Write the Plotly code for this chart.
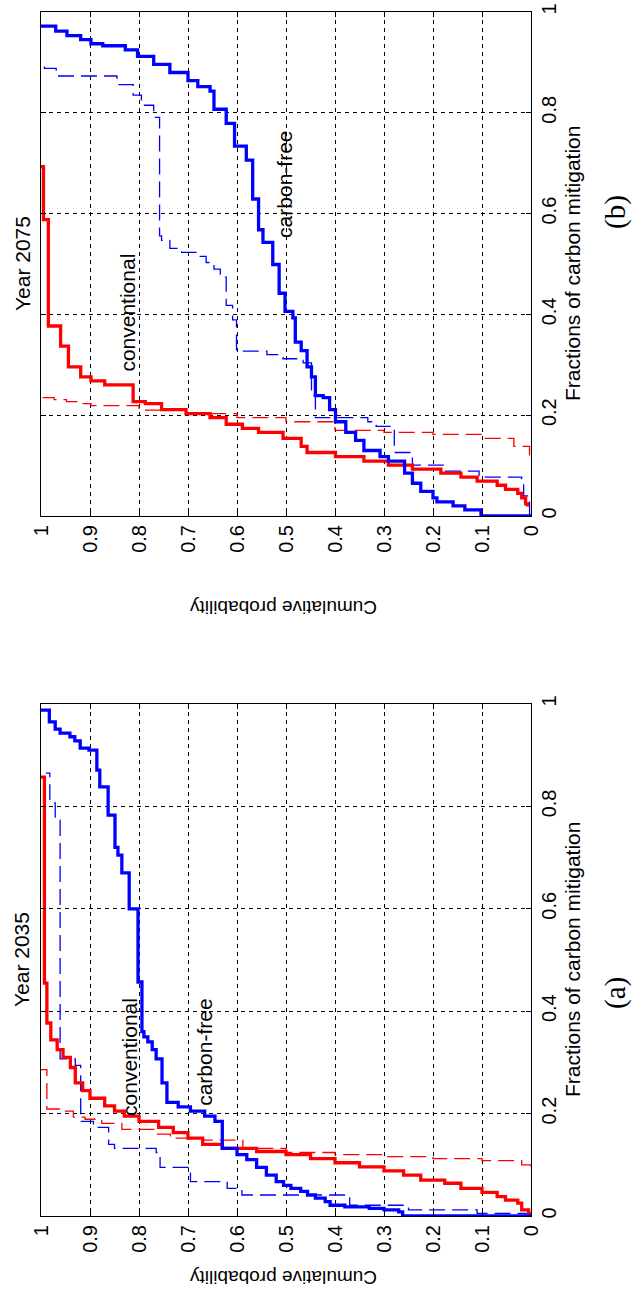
import plotly.graph_objects as go

# ---------------- data: CDF step points (fraction of carbon mitigation, cumulative probability) ----
# Panel (a) Year 2035
A_CF_FRAC = [0, 0, 0.008, 0.012, 0.015, 0.018, 0.021, 0.028, 0.035, 0.041, 0.048, 0.054, 0.06, 0.067,
             0.08, 0.095, 0.11, 0.12, 0.132, 0.185, 0.195, 0.205, 0.213, 0.222, 0.26, 0.307, 0.325,
             0.34, 0.35, 0.36, 0.457, 0.6, 0.67, 0.705, 0.72, 0.783, 0.838, 0.871, 0.91, 0.914,
             0.928, 0.936, 0.943, 0.951, 0.965, 0.988]
A_CF_PROB = [0, 0.262, 0.27, 0.30, 0.33, 0.38, 0.41, 0.42, 0.44, 0.456, 0.47, 0.49, 0.505, 0.52,
             0.54, 0.56, 0.58, 0.60, 0.63, 0.645, 0.666, 0.695, 0.72, 0.743, 0.753, 0.765, 0.773,
             0.782, 0.79, 0.794, 0.802, 0.82, 0.835, 0.843, 0.849, 0.863, 0.88, 0.886, 0.902, 0.92,
             0.931, 0.941, 0.961, 0.971, 0.983, 1.0]

A_CONV_FRAC = [0, 0.005, 0.012, 0.025, 0.031, 0.038, 0.046, 0.054, 0.064, 0.07, 0.08, 0.088, 0.096,
               0.104, 0.112, 0.12, 0.126, 0.132, 0.14, 0.152, 0.163, 0.173, 0.185, 0.195, 0.205,
               0.215, 0.23, 0.245, 0.26, 0.29, 0.31, 0.325, 0.344, 0.377, 0.455, 0.857]
A_CONV_PROB = [0, 0.005, 0.019, 0.027, 0.052, 0.069, 0.1, 0.143, 0.176, 0.225, 0.26, 0.3, 0.35,
               0.4, 0.45, 0.5, 0.56, 0.63, 0.67, 0.7, 0.73, 0.76, 0.8, 0.83, 0.85,
               0.87, 0.9, 0.915, 0.93, 0.94, 0.955, 0.967, 0.98, 0.988, 0.993, 1.0]

A_CF_DASH_FRAC = [0, 0, 0.005, 0.012, 0.021, 0.041, 0.054, 0.067, 0.095, 0.124, 0.132, 0.14, 0.173,
                  0.185, 0.294, 0.307, 0.773, 0.807, 0.865]
A_CF_DASH_PROB = [0, 0.01, 0.11, 0.25, 0.37, 0.59, 0.62, 0.695, 0.757, 0.765, 0.85, 0.862, 0.893,
                  0.919, 0.93, 0.961, 0.971, 0.982, 0.99]

A_CONV_DASH_FRAC = [0.096, 0.1, 0.108, 0.112, 0.116, 0.12, 0.124, 0.132, 0.148, 0.152, 0.16, 0.169,
                    0.181, 0.189, 0.193, 0.205, 0.209, 0.286]
A_CONV_DASH_PROB = [0.0, 0.019, 0.1, 0.2, 0.3, 0.4, 0.5, 0.588, 0.67, 0.736, 0.77, 0.835,
                    0.876, 0.91, 0.934, 0.96, 0.988, 1.0]

# Panel (b) Year 2075
B_CF_FRAC = [0, 0, 0.012, 0.02, 0.028, 0.036, 0.049, 0.065, 0.085, 0.109, 0.118, 0.13, 0.15, 0.166,
             0.187, 0.211, 0.235, 0.239, 0.276, 0.296, 0.328, 0.345, 0.393, 0.406, 0.442, 0.499,
             0.543, 0.568, 0.629, 0.706, 0.734, 0.779, 0.807, 0.843, 0.852, 0.864, 0.88, 0.896,
             0.912, 0.925, 0.933, 0.937, 0.945, 0.953, 0.962, 0.972]
B_CF_PROB = [0, 0.102, 0.135, 0.159, 0.192, 0.2, 0.225, 0.242, 0.258, 0.291, 0.308, 0.341, 0.358, 0.378,
             0.399, 0.411, 0.424, 0.44, 0.448, 0.457, 0.469, 0.481, 0.486, 0.502, 0.514, 0.527,
             0.547, 0.556, 0.568, 0.581, 0.605, 0.622, 0.647, 0.655, 0.68, 0.70, 0.737, 0.77,
             0.803, 0.828, 0.874, 0.898, 0.919, 0.947, 0.97, 1.0]

B_CONV_FRAC = [0.019, 0.024, 0.036, 0.045, 0.053, 0.061, 0.069, 0.077, 0.085, 0.093, 0.101, 0.109,
               0.118, 0.126, 0.138, 0.154, 0.166, 0.174, 0.182, 0.195, 0.203, 0.211, 0.223, 0.227,
               0.26, 0.268, 0.276, 0.296, 0.337, 0.377, 0.588, 0.693]
B_CONV_PROB = [0.007, 0.011, 0.019, 0.027, 0.052, 0.069, 0.11, 0.143, 0.184, 0.242, 0.291, 0.341,
               0.399, 0.457, 0.469, 0.506, 0.556, 0.589, 0.622, 0.655, 0.704, 0.754, 0.787, 0.812,
               0.87, 0.898, 0.919, 0.944, 0.96, 0.985, 0.995, 1.0]

B_CF_DASH_FRAC = [0, 0, 0.04, 0.069, 0.077, 0.089, 0.101, 0.126, 0.178, 0.187, 0.195, 0.239, 0.304,
                  0.312, 0.32, 0.327, 0.389, 0.418, 0.474, 0.49, 0.503, 0.515, 0.523, 0.531, 0.547,
                  0.556, 0.791, 0.815, 0.835, 0.856, 0.873, 0.888, 0.892]
B_CF_DASH_PROB = [0, 0.003, 0.015, 0.019, 0.106, 0.176, 0.242, 0.279, 0.316, 0.333, 0.44, 0.448, 0.465,
                  0.506, 0.539, 0.601, 0.609, 0.622, 0.634, 0.647, 0.663, 0.68, 0.713, 0.737, 0.754,
                  0.758, 0.77, 0.795, 0.812, 0.845, 0.969, 0.993, 1.0]

B_CONV_DASH_FRAC = [0.12, 0.138, 0.154, 0.162, 0.166, 0.17, 0.187, 0.195, 0.203, 0.21, 0.219, 0.223,
                    0.227, 0.231, 0.235]
B_CONV_DASH_PROB = [0.003, 0.035, 0.1, 0.2, 0.3, 0.4, 0.5, 0.6, 0.7, 0.8, 0.898, 0.919,
                    0.948, 0.973, 1.0]

PROB_TICKS = [0, 0.1, 0.2, 0.3, 0.4, 0.5, 0.6, 0.7, 0.8, 0.9, 1]
PROB_TICKTEXT = ["0", "0.1", "0.2", "0.3", "0.4", "0.5", "0.6", "0.7", "0.8", "0.9", "1"]
FRAC_TICKS = [0, 0.2, 0.4, 0.6, 0.8, 1]
FRAC_TICKTEXT = ["0", "0.2", "0.4", "0.6", "0.8", "1"]

# ---------------- figure ----------------
W, H = 633, 1302
BLUE = "rgb(0,0,255)"
RED = "rgb(255,0,0)"
THICK = 3.3
THIN = 1.3
DASH = "16px,7px"

fig = go.Figure()


def add_curve(frac, prob, color, width, dash, xa, ya):
    fig.add_trace(go.Scatter(
        x=prob, y=frac, mode="lines", line_shape="vh",
        line=dict(color=color, width=width, dash=dash),
        xaxis=xa, yaxis=ya, showlegend=False, hoverinfo="skip"))


# panel (a): axes x / y
add_curve(A_CONV_DASH_FRAC, A_CONV_DASH_PROB, RED, THIN, DASH, "x", "y")
add_curve(A_CF_DASH_FRAC, A_CF_DASH_PROB, BLUE, THIN, DASH, "x", "y")
add_curve(A_CONV_FRAC, A_CONV_PROB, RED, THICK, "solid", "x", "y")
add_curve(A_CF_FRAC, A_CF_PROB, BLUE, THICK, "solid", "x", "y")
# panel (b): axes x2 / y2
add_curve(B_CONV_DASH_FRAC, B_CONV_DASH_PROB, RED, THIN, DASH, "x2", "y2")
add_curve(B_CF_DASH_FRAC, B_CF_DASH_PROB, BLUE, THIN, DASH, "x2", "y2")
add_curve(B_CONV_FRAC, B_CONV_PROB, RED, THICK, "solid", "x2", "y2")
add_curve(B_CF_FRAC, B_CF_PROB, BLUE, THICK, "solid", "x2", "y2")

FONT = "Liberation Sans, Arial, sans-serif"
TICKFONT = dict(family=FONT, size=20, color="black")

xdom = [41 / W, 531 / W]
ydom_a = [1 - 1216 / H, 1 - 704 / H]
ydom_b = [1 - 516 / H, 1 - 12 / H]

common = dict(showline=True, linecolor="black", linewidth=1, mirror="ticks",
              ticks="inside", ticklen=5, tickcolor="black", automargin=False,
              showgrid=True, gridcolor="black", gridwidth=1, griddash="4px,4px",
              zeroline=False, tickfont=TICKFONT, tickangle=-90, fixedrange=True,
              ticklabeloverflow="allow")

fig.update_layout(
    width=W, height=H, autosize=False,
    margin=dict(l=0, r=0, t=0, b=0),
    paper_bgcolor="white", plot_bgcolor="white",
    xaxis=dict(domain=xdom, range=[1, 0], tickvals=PROB_TICKS, ticktext=PROB_TICKTEXT,
               anchor="y", **common),
    yaxis=dict(domain=ydom_a, range=[0, 1], tickvals=FRAC_TICKS, ticktext=FRAC_TICKTEXT,
               side="right", anchor="x", **common),
    xaxis2=dict(domain=xdom, range=[1, 0], tickvals=PROB_TICKS, ticktext=PROB_TICKTEXT,
                anchor="y2", **common),
    yaxis2=dict(domain=ydom_b, range=[0, 1], tickvals=FRAC_TICKS, ticktext=FRAC_TICKTEXT,
                side="right", anchor="x2", **common),
)


def paper_text(text, px, py, angle, size, family=FONT):
    fig.add_annotation(text=text, xref="paper", yref="paper", x=px / W, y=1 - py / H,
                       xanchor="center", yanchor="middle", showarrow=False, textangle=angle,
                       font=dict(family=family, size=size, color="black"))


def data_text(text, xa, ya, p, f, size=21):
    fig.add_annotation(text=text, xref=xa, yref=ya, x=p, y=f, xanchor="center",
                       yanchor="middle", showarrow=False, textangle=-90,
                       font=dict(family=FONT, size=size, color="black"))


SERIF = "Liberation Serif, Times New Roman, serif"
# panel (a)
paper_text("Year 2035", 21, 960, -90, 21)
paper_text("Fractions of carbon mitigation", 572, 960, -90, 21)
paper_text("(a)", 615, 993, -90, 29, SERIF)
paper_text("Cumulative probability", 284, 1278, 180, 19)
data_text("conventional", "x", "y", 0.819, 0.31)
data_text("carbon-free", "x", "y", 0.666, 0.32)
# panel (b)
paper_text("Year 2075", 22, 264, -90, 21)
paper_text("Fractions of carbon mitigation", 572, 264, -90, 21)
paper_text("(b)", 615, 212, -90, 29, SERIF)
paper_text("Cumulative probability", 284, 608, 180, 19)
data_text("conventional", "x2", "y2", 0.824, 0.404)
data_text("carbon-free", "x2", "y2", 0.502, 0.657)

fig.write_html("out.html", config={"displayModeBar": False},
               post_script="document.body.style.margin='0';document.body.style.overflow='hidden';")
